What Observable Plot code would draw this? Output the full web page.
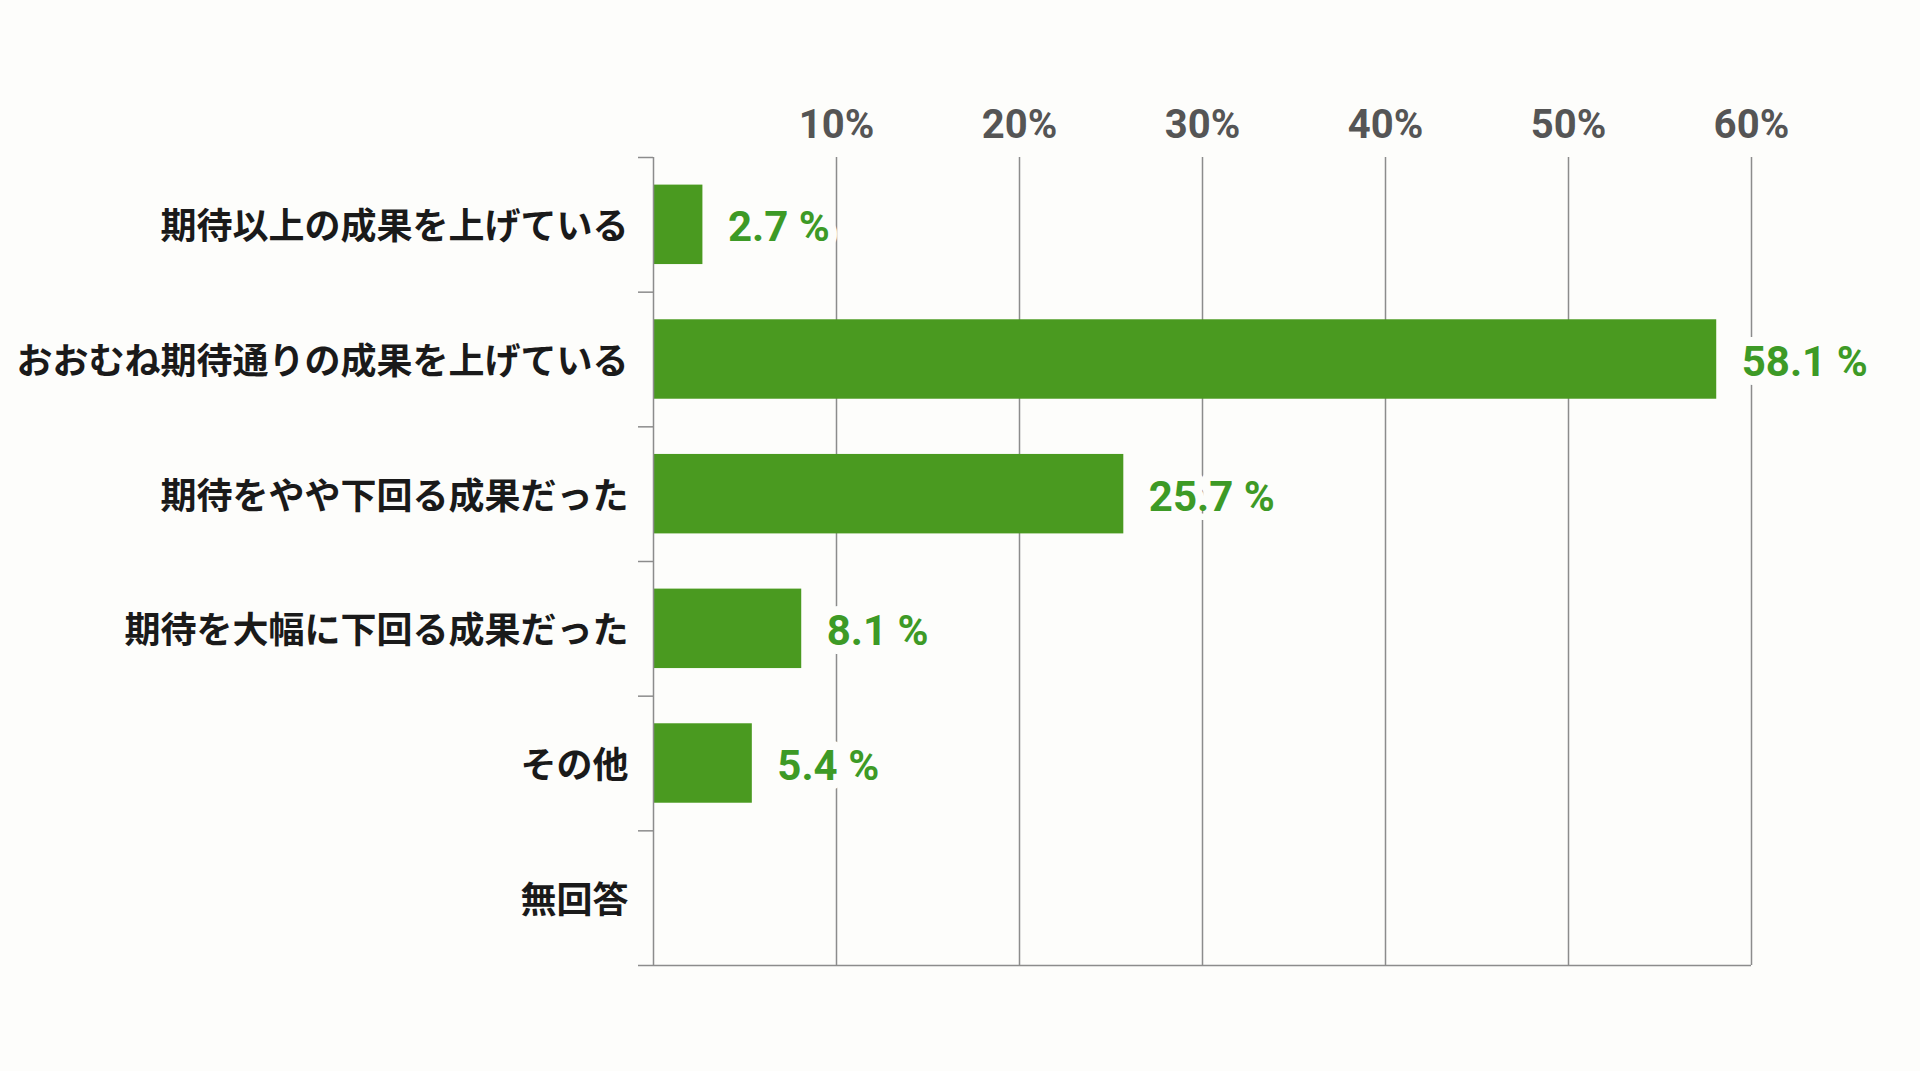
<!DOCTYPE html>
<html><head><meta charset="utf-8">
<script src="https://cdn.jsdelivr.net/npm/d3@7"></script>
<script src="https://cdn.jsdelivr.net/npm/@observablehq/plot@0.6"></script>
<style>html,body{margin:0;padding:0;background:#fdfdfb;} svg{display:block}</style>
</head><body><div id="chart"></div>
<script>
const categories = [
  "期待以上の成果を上げている",
  "おおむね期待通りの成果を上げている",
  "期待をやや下回る成果だった",
  "期待を大幅に下回る成果だった",
  "その他",
  "無回答"
];
const values = [2.7, 58.1, 25.7, 8.1, 5.4, 0];
const valueLabels = ["2.7 %", "58.1 %", "25.7 %", "8.1 %", "5.4 %", ""];
const xTicks = [10, 20, 30, 40, 50, 60];
const xTickLabels = ["10%", "20%", "30%", "40%", "50%", "60%"];

const n = categories.length;
const rows = categories.map((c, i) => ({category: c, index: i, value: values[i], label: valueLabels[i]}));
const shown = rows.filter(d => d.value > 0);
const pad = 0.205;
const bg = "#fdfdfb";
const grid = "#8c8c8c";

const chart = Plot.plot({
  width: 1920,
  height: 1071,
  marginTop: 157,
  marginBottom: 106,
  marginLeft: 653,
  marginRight: 169,
  style: {background: "transparent", fontFamily: "Roboto, 'Noto Sans CJK JP', sans-serif"},
  x: {domain: [0, 60]},
  y: {domain: [0, n], reverse: true},
  marks: [
    Plot.ruleX(xTicks, {stroke: grid, strokeWidth: 1.5}),
    Plot.axisX({anchor: "top", ticks: xTicks, tickSize: 0, tickPadding: 20,
      tickFormat: d => xTickLabels[xTicks.indexOf(d)], fontSize: 40, fontWeight: 700,
      fill: "#555", label: null}),
    Plot.axisY({ticks: d3.range(0, n + 1), tickSize: 15, tickFormat: () => "",
      stroke: grid, strokeWidth: 1.5, label: null}),
    Plot.axisY({ticks: d3.range(n).map(i => i + 0.5), tickSize: 0, tickPadding: 25, dy: 3,
      tickFormat: d => categories[Math.floor(d)], fontSize: 36, fontWeight: 700,
      fill: "#1a1a1a", fontFamily: "'Noto Sans CJK JP', sans-serif", label: null}),
    Plot.rectX(shown, {x1: 0, x2: "value", y1: d => d.index + pad, y2: d => d.index + 1 - pad, fill: "#4a9a20"}),
    Plot.ruleX([0], {stroke: grid, strokeWidth: 1.5}),
    Plot.ruleY([n], {stroke: grid, strokeWidth: 1.5}),
    Plot.text(shown, {x: "value", y: d => d.index + 0.5, text: "label", textAnchor: "start", dx: 25, dy: 3,
      fill: "#3d9a26", fontSize: 42, fontWeight: 700, stroke: bg, strokeWidth: 18, paintOrder: "stroke"})
  ]
});
document.getElementById("chart").appendChild(chart);
</script>
</body></html>
